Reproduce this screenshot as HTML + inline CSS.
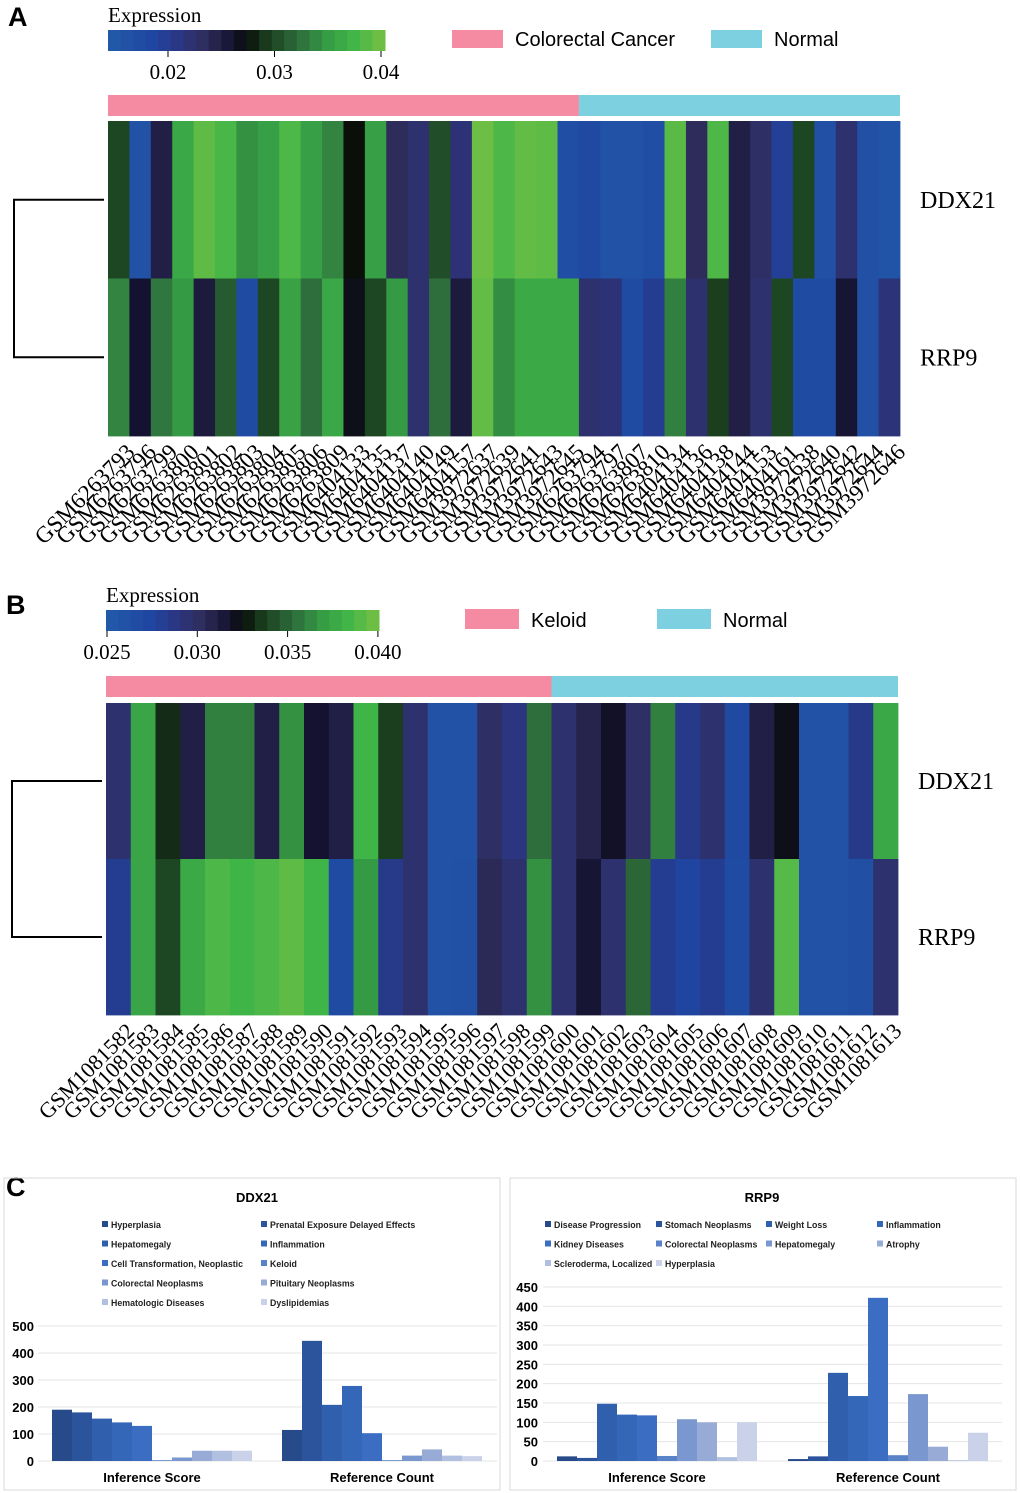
<!DOCTYPE html>
<html><head><meta charset="utf-8"><style>
body{margin:0;background:#fff;width:1020px;height:1493px;overflow:hidden}
svg{display:block}
.serif{font-family:"Liberation Serif",serif}
.sans{font-family:"Liberation Sans",sans-serif}
</style></head><body>
<svg id="fig" width="1020" height="1493" xmlns="http://www.w3.org/2000/svg">
<g class="sans" font-weight="bold" font-size="27">
<text x="8" y="26">A</text>
<text x="6" y="614">B</text>
<text x="6" y="1196">C</text>
</g>
<rect x="4" y="1178" width="496" height="312" fill="none" stroke="#d8d8d8"/>
<rect x="510" y="1178" width="506" height="312" fill="none" stroke="#d8d8d8"/>
</svg>
<script>
// ---------- data ----------
const samplesA = ["GSM6263793","GSM6263796","GSM6263799","GSM6263800","GSM6263801","GSM6263802","GSM6263803","GSM6263804","GSM6263805","GSM6263806","GSM6263809","GSM6404133","GSM6404135","GSM6404137","GSM6404140","GSM6404149","GSM6404157","GSM3972637","GSM3972639","GSM3972641","GSM3972643","GSM3972645","GSM6263794","GSM6263797","GSM6263807","GSM6263810","GSM6404134","GSM6404136","GSM6404138","GSM6404144","GSM6404153","GSM6404161","GSM3972638","GSM3972640","GSM3972642","GSM3972644","GSM3972646"];
const groupCountA = [22, 15];
const ddx21A = [0.6,0.05,0.4,0.85,0.97,0.92,0.78,0.82,0.93,0.82,0.75,0.5,0.82,0.35,0.3,0.62,0.28,1.0,0.93,0.98,0.97,0.08,0.12,0.05,0.05,0.08,0.96,0.35,0.93,0.4,0.32,0.18,0.6,0.06,0.3,0.06,0.04];
const rrp9A = [0.75,0.45,0.72,0.8,0.42,0.65,0.1,0.6,0.83,0.7,0.85,0.48,0.6,0.8,0.3,0.7,0.42,0.98,0.77,0.86,0.86,0.86,0.3,0.28,0.1,0.2,0.74,0.3,0.58,0.4,0.3,0.6,0.1,0.1,0.44,0.06,0.27];
const samplesB = ["GSM1081582","GSM1081583","GSM1081584","GSM1081585","GSM1081586","GSM1081587","GSM1081588","GSM1081589","GSM1081590","GSM1081591","GSM1081592","GSM1081593","GSM1081594","GSM1081595","GSM1081596","GSM1081597","GSM1081598","GSM1081599","GSM1081600","GSM1081601","GSM1081602","GSM1081603","GSM1081604","GSM1081605","GSM1081606","GSM1081607","GSM1081608","GSM1081609","GSM1081610","GSM1081611","GSM1081612","GSM1081613"];
const groupCountB = [18, 14];
const ddx21B = [0.3,0.84,0.55,0.4,0.74,0.74,0.4,0.78,0.45,0.4,0.9,0.58,0.3,0.05,0.05,0.32,0.25,0.7,0.3,0.38,0.46,0.32,0.74,0.22,0.3,0.12,0.4,0.48,0.05,0.05,0.22,0.85];
const rrp9B = [0.2,0.84,0.6,0.86,0.93,0.9,0.93,0.97,0.9,0.1,0.8,0.22,0.3,0.05,0.06,0.36,0.3,0.78,0.3,0.44,0.3,0.68,0.2,0.15,0.2,0.1,0.3,0.95,0.05,0.05,0.07,0.3];
const ticksA = ["0.02","0.03","0.04"];
const ticksB = ["0.025","0.030","0.035","0.040"];

const groupsC = ["Inference Score","Reference Count"];
const ddx21Series = ["Hyperplasia","Prenatal Exposure Delayed Effects","Hepatomegaly","Inflammation","Cell Transformation, Neoplastic","Keloid","Colorectal Neoplasms","Pituitary Neoplasms","Hematologic Diseases","Dyslipidemias"];
const ddx21Inference = [190,180,157,143,130,3,13,38,38,38];
const ddx21Reference = [115,445,208,278,103,3,20,43,20,18];
const ddx21Ticks = [0,100,200,300,400,500];
const rrp9Series = ["Disease Progression","Stomach Neoplasms","Weight Loss","Inflammation","Kidney Diseases","Colorectal Neoplasms","Hepatomegaly","Atrophy","Scleroderma, Localized","Hyperplasia"];
const rrp9Inference = [12,8,148,120,118,13,108,100,10,100];
const rrp9Reference = [5,12,228,168,422,15,173,37,2,73];
const rrp9Ticks = [0,50,100,150,200,250,300,350,400,450];

// ---------- helpers ----------
const NS="http://www.w3.org/2000/svg";
const fig=document.getElementById('fig');
function mk(tag,attrs,parent){const e=document.createElementNS(NS,tag);for(const k in attrs)e.setAttribute(k,attrs[k]);(parent||fig).appendChild(e);return e;}
const stops=[[0,[34,88,168]],[0.15,[31,69,160]],[0.25,[43,53,128]],[0.35,[46,44,90]],[0.45,[20,18,48]],[0.5,[10,15,10]],[0.58,[26,62,30]],[0.7,[46,110,60]],[0.8,[53,154,68]],[0.9,[63,181,72]],[1,[108,190,69]]];
function cmap(v){v=Math.max(0,Math.min(1,v));for(let i=1;i<stops.length;i++){if(v<=stops[i][0]){const a=stops[i-1],b=stops[i],t=(v-a[0])/(b[0]-a[0]);const c=a[1].map((x,j)=>Math.round(x+(b[1][j]-x)*t));return `rgb(${c})`;}}return 'rgb(108,190,69)';}

function heatmap(o){
  const t=mk('text',{x:o.x0,y:o.cbY-8,class:'serif','font-size':21});t.textContent='Expression';
  
  
  const nseg=22, sw=(o.cbX1-o.x0)/nseg;
  for(let i=0;i<nseg;i++){const r=mk('rect',{x:o.x0+i*sw,y:o.cbY,width:sw+0.5,height:o.cbH,fill:cmap(i/(nseg-1))});
    
    }
  o.ticks.forEach((tk,i)=>{const tx=o.tickX(i);
    const l=mk('line',{x1:tx,x2:tx,y1:o.cbY+o.cbH,y2:o.cbY+o.cbH+6,stroke:'#000'});
    
    
    const tt=mk('text',{x:tx,y:o.cbY+o.cbH+28,'text-anchor':'middle',class:'serif','font-size':21});tt.textContent=tk;
    
    });
  o.legend.forEach((lg,i)=>{const r=mk('rect',{x:lg.x,y:o.legY,width:lg.w,height:o.legH,fill:lg.c});
    
    
    const tt=mk('text',{x:lg.x+lg.w+12,y:o.legY+o.legH-2,class:'sans','font-size':20});tt.textContent=lg.label;
    
    });
  const n=o.samples.length, cw=(o.x1-o.x0)/n;
  const g1=mk('rect',{x:o.x0,y:o.gY,width:o.groups[0]*cw,height:o.gH,fill:'#f48ba2'});
  
  
  const g2=mk('rect',{x:o.x0+o.groups[0]*cw,y:o.gY,width:o.groups[1]*cw,height:o.gH,fill:'#7dd0e0'});
  
  
  const rh=(o.y1-o.y0)/2;
  [o.r1,o.r2].forEach((row,ri)=>{row.forEach((v,ci)=>{const c=mk('rect',{x:o.x0+ci*cw,y:o.y0+ri*rh,width:cw+0.4,height:rh+0.4,fill:cmap(v)});
    
    });});
  ['DDX21','RRP9'].forEach((nm,ri)=>{const tt=mk('text',{x:o.x1+20,y:o.y0+ri*rh+rh/2+8,class:'serif','font-size':24});tt.textContent=nm;
    
    });
  const a=o.y0+rh/2,b=o.y0+rh*1.5;
  const p=mk('path',{d:`M${o.x0-4},${a}H${o.dx}V${b}H${o.x0-4}`,fill:'none',stroke:'#000','stroke-width':2});
  
  
  o.samples.forEach((s,i)=>{const x=o.x0+(i+0.5)*cw+6,y=o.y1+6;
    const tt=mk('text',{x:x,y:y,transform:`rotate(-45 ${x} ${y})`,'text-anchor':'end','dominant-baseline':'hanging',class:'serif','font-size':o.lf});tt.textContent=s;
    
    });
}
heatmap({x0:108,x1:900,y0:121,y1:436,cbY:30,cbH:21,cbX1:385,ticks:ticksA,tickX:i=>168+i*106.5,
  legend:[{x:452,w:51,c:'#f48ba2',label:'Colorectal Cancer',n:'colorectal-cancer'},{x:711,w:51,c:'#7dd0e0',label:'Normal',n:'normal'}],legY:30,legH:18,
  gY:95,gH:21,samples:samplesA,groups:groupCountA,r1:ddx21A,r2:rrp9A,dx:14,lf:23});
heatmap({x0:106,x1:898,y0:703,y1:1015,cbY:610,cbH:21,cbX1:379,ticks:ticksB,tickX:i=>107+i*90.3,
  legend:[{x:465,w:54,c:'#f48ba2',label:'Keloid',n:'keloid'},{x:657,w:54,c:'#7dd0e0',label:'Normal',n:'normal'}],legY:609,legH:20,
  gY:676,gH:21,samples:samplesB,groups:groupCountB,r1:ddx21B,r2:rrp9B,dx:12,lf:22});

// ---------- bar charts ----------
const barColors=['#264a8a','#2c549c','#3060ad','#3567b9','#3b6dc2','#5a82c8','#7b97cf','#98abd7','#b1bfe0','#cad2ea'];
function barChart(o){
  const t=mk('text',{x:o.tx,y:1202,'text-anchor':'middle',class:'sans','font-weight':'bold','font-size':13});t.textContent=o.title;
  
  
  o.series.forEach((s,i)=>{const col=i%o.lcols,row=Math.floor(i/o.lcols);const lx=o.lx[col],ly=1228+row*19.5;
    const r=mk('rect',{x:lx,y:ly-7,width:6,height:6,fill:barColors[i]});
    
    
    const tt=mk('text',{x:lx+9,y:ly,class:'sans','font-weight':'bold','font-size':8.8,fill:'#222'});tt.textContent=s;
    
    });
  const y=v=>o.y0-(v/o.tmax)*(o.y0-o.yTop);
  o.ticks.forEach(tk=>{const l=mk('line',{x1:o.gx0,x2:o.gx1,y1:y(tk),y2:y(tk),stroke:'#e4e4e4'});
    
    
    const tt=mk('text',{x:o.lblX,y:y(tk)+5,'text-anchor':'end',class:'sans','font-weight':'bold','font-size':13});tt.textContent=tk;
    
    });
  [o.inf,o.ref].forEach((vals,gi)=>{const gx=o.gStart[gi];
    vals.forEach((v,i)=>{const r=mk('rect',{x:gx+i*20,y:y(v),width:20,height:o.y0-y(v),fill:barColors[i]});
      
      });
    const tt=mk('text',{x:gx+100,y:1482,'text-anchor':'middle',class:'sans','font-weight':'bold','font-size':13});tt.textContent=groupsC[gi];
    
    });
}
barChart({title:'DDX21',tx:257,series:ddx21Series,lcols:2,lx:[102,261],ticks:ddx21Ticks,tmax:500,y0:1461,yTop:1326,gx0:38,gx1:497,lblX:34,gStart:[52,282],inf:ddx21Inference,ref:ddx21Reference});
barChart({title:'RRP9',tx:762,series:rrp9Series,lcols:4,lx:[545,656,766,877],ticks:rrp9Ticks,tmax:450,y0:1461,yTop:1287,gx0:543,gx1:1002,lblX:538,gStart:[557,788],inf:rrp9Inference,ref:rrp9Reference});
</script>
</body></html>
